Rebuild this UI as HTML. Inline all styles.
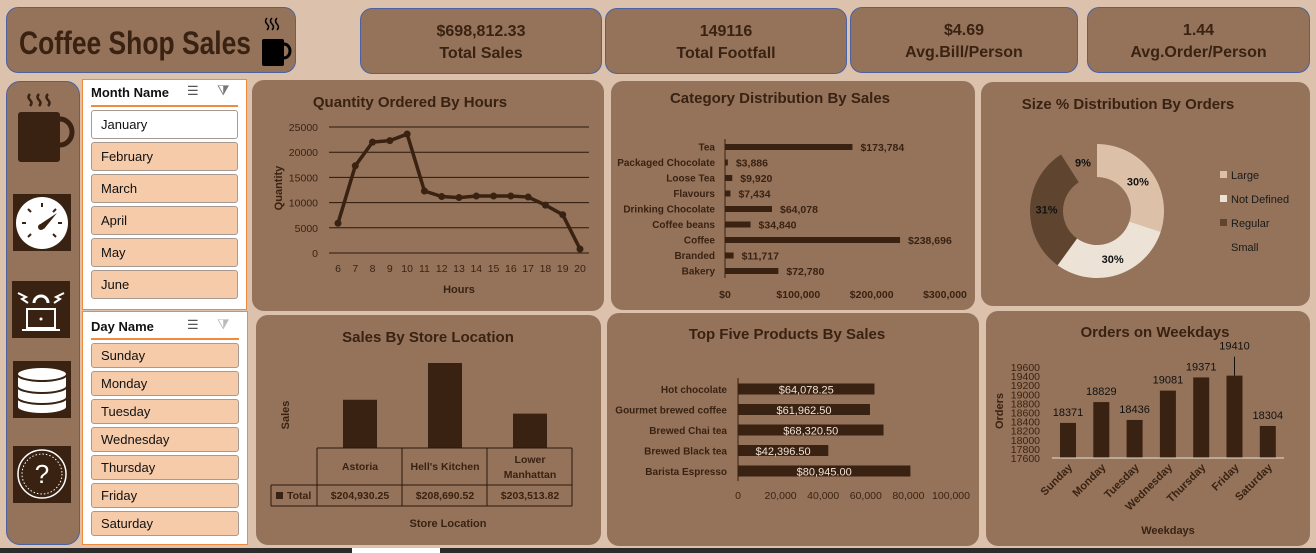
<!DOCTYPE html>
<html><head><meta charset="utf-8">
<style>
*{margin:0;padding:0;box-sizing:border-box}
body{width:1316px;height:553px;background:#dcc2ac;font-family:"Liberation Sans",sans-serif;position:relative;overflow:hidden;color:#3a2212}
.box{position:absolute;background:#94735a;border-radius:12px}
.kpi{border:1.5px solid #4a62a0;text-align:center;font-weight:bold;font-size:16px;line-height:22px;padding-top:12px}
.slicer{position:absolute;background:#fff;border:1.5px solid #f08a3c}
.sh{position:absolute;left:8px;font-weight:bold;font-size:13px;color:#111}
.sl{position:absolute;left:8px;right:8px;height:0;border-top:2px solid #f08a3c}
.it{position:absolute;left:8px;right:8px;background:#f5cbaa;border:1px solid #a89a90;border-radius:3px;font-size:13px;color:#111;padding-left:9px}
.ic{position:absolute;background:#3a2212}
svg text{font-family:"Liberation Sans",sans-serif}
</style></head><body>
<div class="box" style="left:6px;top:7px;width:290px;height:66px;border:1.5px solid #4a62a0">
 <svg style="position:absolute;left:0;top:0" width="250" height="64"><text x="12" y="46" font-size="32" font-weight="bold" fill="#3a2212" textLength="232" lengthAdjust="spacingAndGlyphs">Coffee Shop Sales</text></svg>
 <svg style="position:absolute;left:252px;top:6px" width="36" height="54"><path d="M8 4q-3 3 0 6t0 6M13 4q-3 3 0 6t0 6M18 4q-3 3 0 6t0 6" stroke="#000" stroke-width="1.5" fill="none"/><rect x="3" y="25" width="22" height="27" rx="2" fill="#000"/><path d="M25 30a6 7 0 0 1 0 14" stroke="#000" stroke-width="3" fill="none"/></svg>
</div>
<div class="box kpi" style="left:360px;top:8px;width:242px;height:66px"><div>$698,812.33</div><div>Total Sales</div></div>
<div class="box kpi" style="left:605px;top:8px;width:242px;height:66px"><div>149116</div><div>Total Footfall</div></div>
<div class="box kpi" style="left:850px;top:7px;width:228px;height:66px"><div>$4.69</div><div>Avg.Bill/Person</div></div>
<div class="box kpi" style="left:1087px;top:7px;width:223px;height:66px"><div>1.44</div><div>Avg.Order/Person</div></div>

<div class="box" style="left:6px;top:81px;width:74px;height:464px;border:1.5px solid #4a62a0;border-radius:14px"></div>
<svg style="position:absolute;left:16px;top:92px" width="60" height="80"><path d="M14 2q-3 3 0 6t0 6M23 2q-3 3 0 6t0 6M32 2q-3 3 0 6t0 6" stroke="#3a2212" stroke-width="2.5" fill="none"/><rect x="2" y="20" width="42" height="50" rx="3" fill="#3a2212"/><path d="M44 27a12 13 0 0 1 0 26" stroke="#3a2212" stroke-width="5" fill="none"/></svg>
<div class="ic" style="left:13px;top:194px;width:58px;height:57px"><svg width="58" height="57"><circle cx="29" cy="29" r="26" fill="#fff"/><g stroke="#3a2212" stroke-width="2"><line x1="9" y1="29" x2="13" y2="29"/><line x1="45" y1="29" x2="49" y2="29"/><line x1="29" y1="9" x2="29" y2="13"/><line x1="15" y1="15" x2="18" y2="18"/><line x1="43" y1="15" x2="40" y2="18"/><line x1="15" y1="43" x2="18" y2="40"/><line x1="43" y1="43" x2="40" y2="40"/></g><path d="M26 31L44 19L31 35Z" fill="#3a2212"/><circle cx="28" cy="33" r="3" fill="#3a2212"/></svg></div>
<div class="ic" style="left:12px;top:281px;width:58px;height:57px"><svg width="58" height="57"><path d="M22 22a7 7 0 0 1 14 0" stroke="#fff" stroke-width="3" fill="none"/><path d="M6 12l8 4-4 2 6 4M52 12l-8 4 4 2-6 4" stroke="#fff" stroke-width="2" fill="none"/><rect x="15" y="28" width="28" height="19" stroke="#fff" stroke-width="2" fill="none"/><line x1="10" y1="49" x2="48" y2="49" stroke="#fff" stroke-width="2"/><circle cx="29" cy="38" r="1.5" fill="#fff"/></svg></div>
<div class="ic" style="left:13px;top:361px;width:58px;height:57px"><svg width="58" height="57"><g fill="#fff" stroke="#3a2212" stroke-width="2"><path d="M4 38v8a25 7 0 0 0 50 0v-8"/><path d="M4 27v9a25 7 0 0 0 50 0v-9"/><path d="M4 14v11a25 7 0 0 0 50 0v-11"/><ellipse cx="29" cy="13" rx="25" ry="7"/></g></svg></div>
<div class="ic" style="left:13px;top:446px;width:58px;height:57px"><svg width="58" height="57"><circle cx="29" cy="28" r="24" stroke="#fff" stroke-width="1.5" fill="none"/><circle cx="29" cy="28" r="20" stroke="#fff" stroke-width="1" stroke-dasharray="1.5 2" fill="none"/><text x="29" y="37" text-anchor="middle" font-size="26" fill="#fff">?</text></svg></div>

<div class="slicer" style="left:82px;top:79px;width:165px;height:231px">
 <div class="sh" style="top:5px">Month Name</div>
 <div style="position:absolute;left:104px;top:3px;font-size:13px;color:#555">☰</div>
 <div style="position:absolute;left:134px;top:2px;font-size:14px;color:#777">⧩</div>
 <div class="sl" style="top:25px"></div>
 <div class="it" style="top:30px;height:29px;line-height:27px;background:#fff">January</div>
 <div class="it" style="top:62px;height:29px;line-height:27px">February</div>
 <div class="it" style="top:94px;height:29px;line-height:27px">March</div>
 <div class="it" style="top:126px;height:29px;line-height:27px">April</div>
 <div class="it" style="top:158px;height:29px;line-height:27px">May</div>
 <div class="it" style="top:190px;height:29px;line-height:27px">June</div>
</div>
<div class="slicer" style="left:82px;top:311px;width:166px;height:234px">
 <div class="sh" style="top:7px">Day Name</div>
 <div style="position:absolute;left:104px;top:5px;font-size:13px;color:#555">☰</div>
 <div style="position:absolute;left:134px;top:4px;font-size:14px;color:#bbb">⧩</div>
 <div class="sl" style="top:26px"></div>
 <div class="it" style="top:31px;height:25px;line-height:23px">Sunday</div>
 <div class="it" style="top:59px;height:25px;line-height:23px">Monday</div>
 <div class="it" style="top:87px;height:25px;line-height:23px">Tuesday</div>
 <div class="it" style="top:115px;height:25px;line-height:23px">Wednesday</div>
 <div class="it" style="top:143px;height:25px;line-height:23px">Thursday</div>
 <div class="it" style="top:171px;height:25px;line-height:23px">Friday</div>
 <div class="it" style="top:199px;height:25px;line-height:23px">Saturday</div>
</div>

<div class="box" style="left:252px;top:80px;width:352px;height:231px"></div>
<div class="box" style="left:611px;top:81px;width:364px;height:229px"></div>
<div class="box" style="left:981px;top:82px;width:329px;height:224px"></div>
<div class="box" style="left:256px;top:315px;width:345px;height:230px"></div>
<div class="box" style="left:607px;top:313px;width:372px;height:233px"></div>
<div class="box" style="left:986px;top:311px;width:324px;height:235px"></div>
<div style="position:absolute;left:0;top:548px;width:1316px;height:5px;background:#2b2b2b"></div>
<div style="position:absolute;left:352px;top:548px;width:88px;height:5px;background:#fff"></div>

<svg id="ch" width="1316" height="553" style="position:absolute;left:0;top:0"></svg>
<script>
// Hours chart
const hours=[6,7,8,9,10,11,12,13,14,15,16,17,18,19,20];
const qty=[5900,17300,22000,22300,23600,12300,11200,11000,11300,11300,11300,11100,9500,7600,800];
const qtyTicks=[0,5000,10000,15000,20000,25000];
// Category chart
const cats=["Tea","Packaged Chocolate","Loose Tea","Flavours","Drinking Chocolate","Coffee beans","Coffee","Branded","Bakery"];
const catSales=[173784,3886,9920,7434,64078,34840,238696,11717,72780];
const catTicks=[0,100000,200000,300000];
// Size donut
const sizes=["Large","Not Defined","Regular","Small"];
const sizePct=[30,30,31,9];
// Store
const stores=["Astoria","Hell's Kitchen","Lower Manhattan"];
const storeSales=[204930.25,208690.52,203513.82];
// Top five
const products=["Hot chocolate","Gourmet brewed coffee","Brewed Chai tea","Brewed Black tea","Barista Espresso"];
const prodSales=[64078.25,61962.50,68320.50,42396.50,80945.00];
const prodTicks=[0,20000,40000,60000,80000,100000];
// Weekdays
const days=["Sunday","Monday","Tuesday","Wednesday","Thursday","Friday","Saturday"];
const orders=[18371,18829,18436,19081,19371,19410,18304];
const orderTicks=[17600,17800,18000,18200,18400,18600,18800,19000,19200,19400,19600];

const S=document.getElementById('ch'),NS='http://www.w3.org/2000/svg',D='#3a2212';
function el(t,a,txt){const e=document.createElementNS(NS,t);for(const k in a)e.setAttribute(k,a[k]);if(txt!==undefined)e.textContent=txt;S.appendChild(e);return e;}
function T(x,y,s,o){return el('text',Object.assign({x:x,y:y,'font-size':11,fill:D},o||{}),s);}
const fm=v=>'$'+Math.round(v).toLocaleString('en-US');
const f2=v=>'$'+v.toLocaleString('en-US',{minimumFractionDigits:2,maximumFractionDigits:2});

// ---- Hours
let t=T(410,107,'Quantity Ordered By Hours',{'font-size':15,'font-weight':'bold','text-anchor':'middle'});

const hx=h=>338+(h-6)*(580-338)/14, hy=v=>253-v*(126/25000);
qtyTicks.forEach(v=>{let g=el('line',{x1:329,x2:589,y1:hy(v),y2:hy(v),stroke:'#2a170b','stroke-width':1});
 let l=T(318,hy(v)+4,v,{'text-anchor':'end','font-size':10.5});});
hours.forEach(h=>{let l=T(hx(h),272,h,{'text-anchor':'middle','font-size':10.5});});
let pl=el('polyline',{points:hours.map((h,i)=>hx(h)+','+hy(qty[i])).join(' '),fill:'none',stroke:D,'stroke-width':3.5});

hours.forEach((h,i)=>{let c=el('circle',{cx:hx(h),cy:hy(qty[i]),r:3.5,fill:D});});
t=T(459,293,'Hours',{'font-size':11,'font-weight':'bold','text-anchor':'middle'});
t=T(0,0,'Quantity',{'font-size':11,'font-weight':'bold','text-anchor':'middle',transform:'translate(282,188) rotate(-90)'});

// ---- Category
t=T(780,103,'Category Distribution By Sales',{'font-size':15,'font-weight':'bold','text-anchor':'middle'});
const cx0=725,cs=v=>v*(220/300000),cyf=i=>147+i*15.5;
el('line',{x1:cx0,x2:cx0,y1:139,y2:278,stroke:D,'stroke-width':1});
cats.forEach((c,i)=>{let l=T(715,cyf(i)+3.5,c,{'text-anchor':'end','font-size':10,'font-weight':'bold'});
 let b=el('rect',{x:cx0,y:cyf(i)-3,width:cs(catSales[i]),height:6,fill:D});
 let v=T(cx0+cs(catSales[i])+8,cyf(i)+4,fm(catSales[i]),{'font-size':10.5,'font-weight':'bold'});});
catTicks.forEach(v=>{let l=T(cx0+cs(v),298,fm(v),{'text-anchor':'middle','font-size':10.5,'font-weight':'bold'});});

// ---- Donut
t=T(1128,109,'Size % Distribution By Orders',{'font-size':15,'font-weight':'bold','text-anchor':'middle'});
const dc=[1097,211],R=67,r=34,cols=['#dcc0a8','#ede2d6','#5f4530','#94735a'];
let tot=sizePct.reduce((a,b)=>a+b,0),acc=0;
sizePct.forEach((p,i)=>{const a0=acc/tot*2*Math.PI,a1=(acc+p)/tot*2*Math.PI;acc+=p;
 const P=(rad,a)=>[dc[0]+rad*Math.sin(a),dc[1]-rad*Math.cos(a)],lg=(a1-a0)>Math.PI?1:0;
 const[o0,o1,i1,i0]=[P(R,a0),P(R,a1),P(r,a1),P(r,a0)];
 let s=el('path',{d:`M${o0}A${R},${R} 0 ${lg} 1 ${o1}L${i1}A${r},${r} 0 ${lg} 0 ${i0}Z`,fill:cols[i]});
 const m=P((R+r)/2,(a0+a1)/2);let lbl=T(m[0],m[1]+4,p+'%',{'text-anchor':'middle','font-size':11,'font-weight':'bold',fill:'#111'});
 const ly=176+i*24;if(i<3){let sw=el('rect',{x:1220,y:ly-5,width:7,height:7,fill:cols[i]});}
 let lt=T(1231,ly+3,sizes[i],{'font-size':11,fill:'#1a1a1a'});});

// ---- Store
t=T(428,342,'Sales By Store Location',{'font-size':15,'font-weight':'bold','text-anchor':'middle'});
const sb=448,sMin=200000,sk=85/8690,scx=i=>360+i*85;
stores.forEach((s,i)=>{let b=el('rect',{x:scx(i)-17,y:sb-(storeSales[i]-sMin)*sk,width:34,height:(storeSales[i]-sMin)*sk,fill:'#3a2212'});});
const tl={stroke:'#2a170b','stroke-width':1};
el('line',Object.assign({x1:317,x2:572,y1:448,y2:448},tl));el('line',Object.assign({x1:271,x2:572,y1:485,y2:485},tl));el('line',Object.assign({x1:271,x2:572,y1:506,y2:506},tl));
[317,402,487,572].forEach(x=>el('line',Object.assign({x1:x,x2:x,y1:448,y2:506},tl)));el('line',Object.assign({x1:271,x2:271,y1:485,y2:506},tl));
const nm=[["Astoria"],["Hell's Kitchen"],["Lower","Manhattan"]];
stores.forEach((s,i)=>{const cxm=scx(i)-0;nm[i].forEach((w,j)=>{let l=T(cxm,nm[i].length>1?463+j*15:470,w,{'text-anchor':'middle','font-size':10.5,'font-weight':'bold'});});
 let v=T(cxm,499,f2(storeSales[i]),{'text-anchor':'middle','font-size':10.5,'font-weight':'bold'});});
el('rect',{x:276,y:492,width:7,height:7,fill:D});T(287,499,'Total',{'font-size':10.5,'font-weight':'bold'});
t=T(448,527,'Store Location',{'font-size':11,'font-weight':'bold','text-anchor':'middle'});
t=T(0,0,'Sales',{'font-size':11,'font-weight':'bold','text-anchor':'middle',transform:'translate(289,415) rotate(-90)'});

// ---- Top five
t=T(787,339,'Top Five Products By Sales',{'font-size':15,'font-weight':'bold','text-anchor':'middle'});
const px0=738,pk=213/100000,pyf=i=>389+i*20.5;
el('line',{x1:px0,x2:px0,y1:378,y2:481,stroke:D,'stroke-width':1});
products.forEach((p,i)=>{let l=T(727,pyf(i)+4,p,{'text-anchor':'end','font-size':10,'font-weight':'bold'});
 let b=el('rect',{x:px0,y:pyf(i)-5.5,width:prodSales[i]*pk,height:11,fill:D});
 let v=T(px0+prodSales[i]*pk/2,pyf(i)+4.5,f2(prodSales[i]),{'text-anchor':'middle','font-size':11,fill:'#f2e4d6'});});
prodTicks.forEach(v=>{let l=T(px0+v*pk,499,v.toLocaleString('en-US'),{'text-anchor':'middle','font-size':10.5});});

// ---- Weekdays
t=T(1155,337,'Orders on Weekdays',{'font-size':15,'font-weight':'bold','text-anchor':'middle'});
const wb=458,wy=v=>wb-(v-17600)*(91/2000),wx=i=>1068+i*33.3;
orderTicks.forEach(v=>{let l=T(1040,wy(v)+4,v,{'text-anchor':'end','font-size':10.5});});
days.forEach((d,i)=>{let b=el('rect',{x:wx(i)-8,y:wy(orders[i]),width:16,height:wb-wy(orders[i]),fill:'#3a2212'});
 const up=i==5?26:7;if(i==5)el('line',{x1:wx(i),x2:wx(i),y1:wy(orders[i])-19,y2:wy(orders[i]),stroke:'#111','stroke-width':1});
 let v=T(wx(i),wy(orders[i])-up,orders[i],{'text-anchor':'middle','font-size':11,fill:'#111'});
 let l=T(0,0,d,{'text-anchor':'end','font-size':11,'font-weight':'bold',transform:`translate(${wx(i)+5},${wb+10}) rotate(-45)`});});
el('line',{x1:1052,x2:1284,y1:wb,y2:wb,stroke:'#e8ddd2','stroke-width':1});
t=T(1168,534,'Weekdays',{'font-size':11,'font-weight':'bold','text-anchor':'middle'});
t=T(0,0,'Orders',{'font-size':11,'font-weight':'bold','text-anchor':'middle',transform:'translate(1003,411) rotate(-90)'});
</script>
</body></html>
